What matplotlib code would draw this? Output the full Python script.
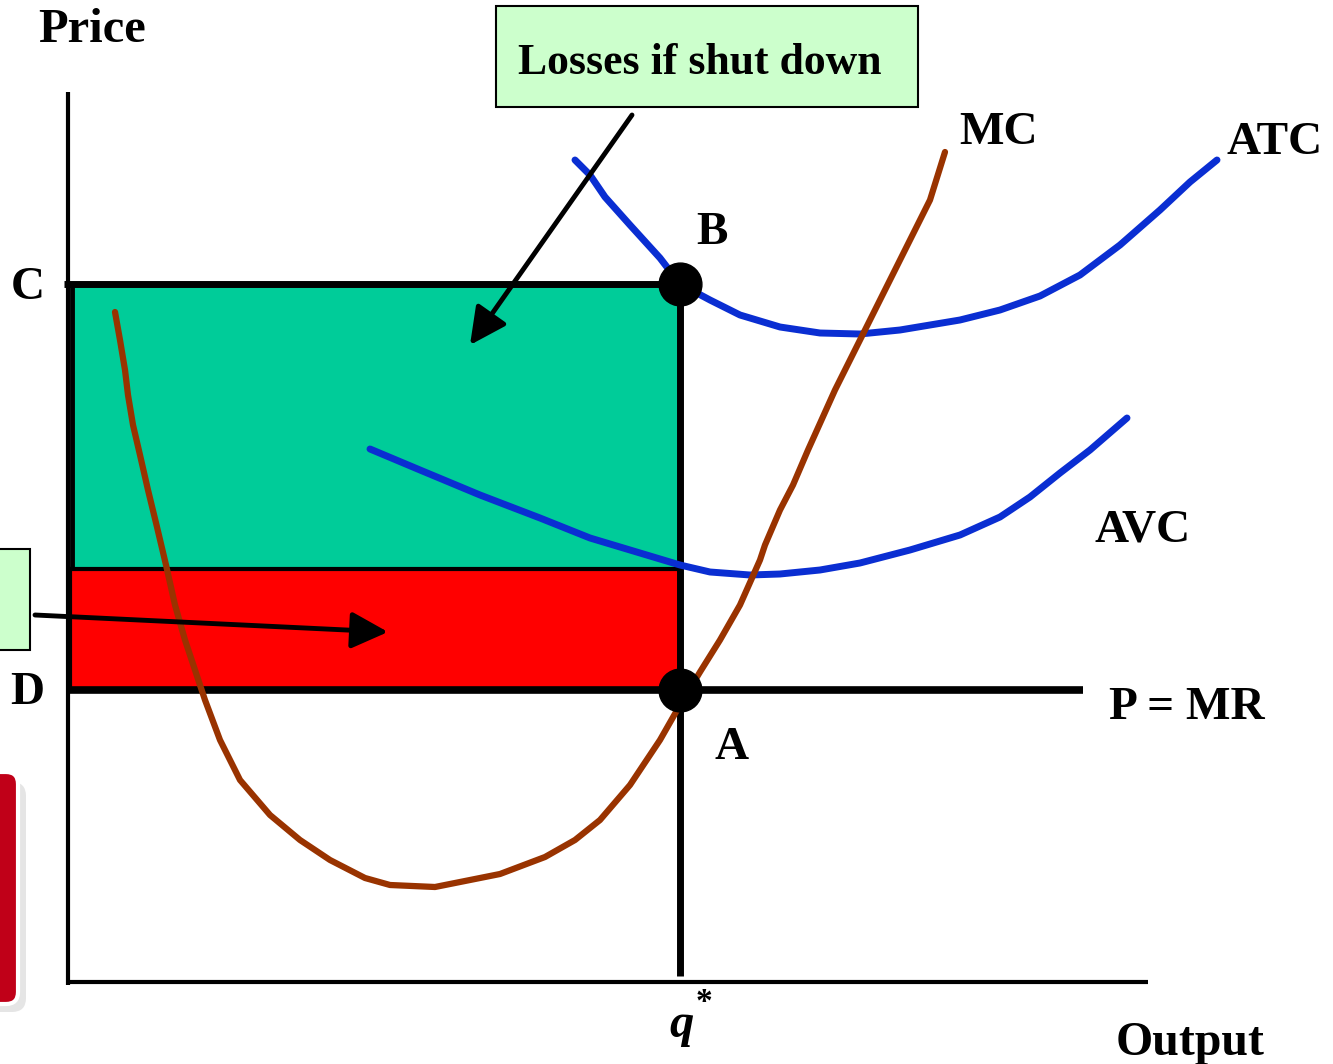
import matplotlib
matplotlib.use("Agg")
import matplotlib.pyplot as plt
from matplotlib.patches import Rectangle, FancyBboxPatch, FancyArrowPatch

# ---- data (in picture units: x to the right, y downward) ----
atc_x = [575, 590, 605, 630, 660, 680, 710, 740, 780, 820, 860, 900, 960, 1000, 1040, 1080, 1120, 1160, 1190, 1217]
atc_y = [160, 175, 197, 225, 258, 284, 300, 315, 327, 333, 334, 330, 320, 310, 296, 275, 245, 210, 182, 160]

avc_x = [370, 420, 480, 540, 590, 640, 680, 710, 750, 780, 820, 860, 910, 960, 1000, 1030, 1060, 1090, 1127]
avc_y = [449, 470, 495, 518, 538, 553, 565, 572, 575, 574, 570, 563, 550, 535, 517, 497, 473, 450, 418]

mc_x = [115, 120, 125, 128, 133, 140, 148, 157, 166, 175, 185, 195, 205, 220, 240, 270, 300, 330, 365,
        390, 435, 460, 500, 545, 575, 600, 630, 660, 680, 700, 720, 740, 760, 765, 780, 793, 808, 835,
        865, 900, 930, 945]
mc_y = [312, 340, 370, 395, 425, 455, 490, 527, 565, 605, 640, 670, 700, 740, 780, 815, 840, 860, 878,
        885, 887, 882, 874, 857, 840, 820, 785, 740, 705, 672, 640, 605, 560, 545, 510, 485, 450, 390,
        330, 260, 200, 152]

q_star = 680
price_C = 284
price_AVC = 569
price_D = 690
origin_x, origin_y = 68, 982
x_axis_end = 1148
y_axis_top = 92
mr_end = 1083

point_labels = ["B", "A"]
point_y = [price_C, price_D]

fig = plt.figure(figsize=(13.33, 10.64), dpi=100)
ax = fig.add_axes([0, 0, 1, 1])
ax.set_xlim(0, 1333)
ax.set_ylim(1064, 0)
ax.axis("off")

serif = ["Liberation Serif", "DejaVu Serif"]
lbl = dict(fontfamily=serif, fontweight="bold", fontsize=34, color="black")
dy = 3

# rectangles
ax.add_patch(Rectangle((72, price_C), q_star - 72, price_AVC - price_C,
                       facecolor="#00CC99", edgecolor="black", lw=3.5, zorder=1))
ax.add_patch(Rectangle((70, price_AVC), q_star - 70, price_D - price_AVC,
                       facecolor="#FF0000", edgecolor="black", lw=3, zorder=1))

# axes
ax.plot([origin_x, origin_x], [y_axis_top, origin_y + 3], color="black", lw=3, zorder=3, solid_capstyle="butt")
ax.plot([origin_x, x_axis_end], [origin_y, origin_y], color="black", lw=3, zorder=3, solid_capstyle="butt")

# C line, q* line, P=MR line
ax.plot([64, q_star], [price_C, price_C], color="black", lw=5, zorder=4, solid_capstyle="butt")
ax.plot([q_star, q_star], [price_C, 976], color="black", lw=5, zorder=4, solid_capstyle="butt")
ax.plot([70, mr_end], [price_D, price_D], color="black", lw=5.5, zorder=4, solid_capstyle="butt")

# curves
ax.plot(atc_x, atc_y, color="#0A2ED2", lw=5, zorder=5, solid_capstyle="round")
ax.plot(avc_x, avc_y, color="#0A2ED2", lw=5, zorder=5, solid_capstyle="round")
ax.plot(mc_x, mc_y, color="#993300", lw=4.5, zorder=5, solid_capstyle="round")

# points
ax.scatter([q_star] * 2, point_y, s=950, color="black", zorder=7)

# labels
ax.text(92, 27 + dy, "Price", ha="center", va="center", fontsize=35, fontfamily=serif, fontweight="bold")
ax.text(1190, 1040 + dy, "Output", ha="center", va="center", fontsize=34.5, fontfamily=serif, fontweight="bold")
ax.text(998, 130 + dy, "MC", ha="center", va="center", **lbl)
ax.text(1275, 140 + dy, "ATC", ha="center", va="center", **lbl)
ax.text(1143, 528 + dy, "AVC", ha="center", va="center", **lbl)
ax.text(1187, 705 + dy, "P = MR", ha="center", va="center", **lbl)
ax.text(712, 230 + dy, point_labels[0], ha="center", va="center", **lbl)
ax.text(732, 745 + dy, point_labels[1], ha="center", va="center", **lbl)
ax.text(28, 285 + dy, "C", ha="center", va="center", **lbl)
ax.text(27, 690 + dy, "D", ha="center", va="center", **lbl)
ax.text(682, 1025, "q", ha="center", va="center", fontfamily=serif, fontweight="bold",
        fontstyle="italic", fontsize=35)
ax.text(704, 1002, "*", ha="center", va="center", fontfamily=serif, fontweight="bold", fontsize=24)

# top callout box
ax.add_patch(Rectangle((496, 6), 422, 101, facecolor="#CCFFCC", edgecolor="black", lw=1.5, zorder=6))
ax.text(700, 60 + dy, "Losses if shut down", ha="center", va="center", fontsize=31.5,
        fontfamily=serif, fontweight="bold", zorder=7)

# left callout box (cut off)
ax.add_patch(Rectangle((-20, 549), 50, 101, facecolor="#CCFFCC", edgecolor="black", lw=1.5, zorder=6))

# arrows
for (x0, y0, x1, y1) in [(632, 115, 470, 345), (35, 615, 388, 632)]:
    ax.add_patch(FancyArrowPatch((x0, y0), (x1, y1), arrowstyle="-|>,head_length=14,head_width=7",
                                 mutation_scale=1.6, color="black", lw=3.5, zorder=8, shrinkA=0, shrinkB=0))

# cut-off red element bottom left
ax.add_patch(FancyBboxPatch((-60, 782), 86, 230, boxstyle="round,pad=0,rounding_size=14",
                            facecolor="#D0D0D0", edgecolor="none", alpha=0.55, zorder=2))
ax.add_patch(FancyBboxPatch((-60, 772), 78, 232, boxstyle="round,pad=0,rounding_size=12",
                            facecolor="#C00018", edgecolor="white", lw=3, zorder=3))

fig.savefig("out.png", dpi=100)
